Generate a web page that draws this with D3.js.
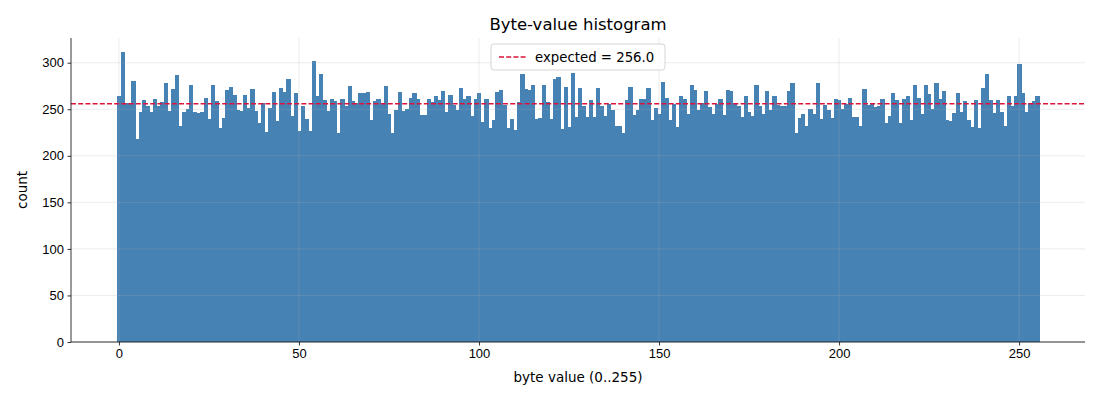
<!DOCTYPE html>
<html>
<head>
<meta charset="utf-8">
<style>
  body { margin: 0; background: #fff; }
  svg { font-family: "DejaVu Sans", sans-serif; }
</style>
</head>
<body>
<svg class="chart"></svg>

<script src="https://d3js.org/d3.v7.min.js"></script>
<script>
// histogram counts for byte values 0..255
counts = [
  264, 311, 257, 257, 280, 218, 247, 260, 253, 247, 261, 253, 258, 278, 248, 272,
  287, 232, 247, 250, 276, 247, 246, 247, 262, 240, 276, 259, 230, 241, 271, 274,
  265, 249, 248, 265, 251, 272, 248, 235, 257, 226, 251, 269, 237, 273, 269, 283,
  243, 268, 227, 253, 240, 227, 302, 264, 288, 260, 248, 261, 259, 224, 261, 253,
  275, 259, 257, 267, 268, 269, 238, 259, 261, 257, 275, 245, 225, 249, 269, 248,
  250, 262, 268, 261, 244, 244, 261, 258, 264, 260, 270, 247, 265, 255, 249, 273,
  261, 264, 243, 261, 267, 236, 261, 230, 238, 269, 271, 255, 230, 240, 228, 258,
  288, 272, 271, 276, 240, 241, 276, 258, 240, 282, 285, 229, 274, 231, 289, 242,
  273, 254, 242, 260, 242, 273, 254, 243, 256, 249, 232, 232, 224, 260, 274, 244,
  249, 261, 261, 273, 238, 251, 245, 279, 262, 238, 256, 231, 264, 261, 245, 276,
  271, 249, 257, 270, 252, 245, 256, 261, 244, 271, 270, 257, 253, 242, 264, 247,
  243, 276, 254, 245, 270, 249, 264, 255, 253, 254, 270, 278, 224, 241, 245, 232,
  250, 245, 278, 240, 255, 249, 241, 261, 260, 250, 256, 262, 242, 242, 232, 272,
  255, 257, 252, 254, 261, 235, 243, 268, 260, 235, 261, 264, 238, 276, 262, 245,
  276, 266, 250, 278, 261, 270, 238, 237, 246, 268, 247, 259, 239, 231, 260, 230,
  273, 288, 260, 246, 260, 247, 232, 264, 253, 264, 299, 268, 247, 257, 259, 264
]
expected = 256
xTicks = [0, 50, 100, 150, 200, 250]
yTicks = [0, 50, 100, 150, 200, 250, 300]

margin = ({top: 38, right: 15, bottom: 58, left: 71})
width  = 1100
height = 400

data = counts.map((v, i) => ({value: i, count: v}))

// bins are centred on each byte value, matplotlib-style 5% x padding
x = d3.scaleLinear()
    .domain([-0.5 - 12.8, 255.5 + 12.8])
    .range([margin.left, width - margin.right])

y = d3.scaleLinear()
    .domain([0, d3.max(counts) * 1.05])
    .range([height - margin.bottom, margin.top])

const svg = d3.select("svg")
    .attr("width", width)
    .attr("height", height)
    .attr("viewBox", [0, 0, width, height]);

// bars overlap a hair so no white seams show between neighbours
svg.append("g")
    .attr("fill", "steelblue")
    .attr("shape-rendering", "crispEdges")
  .selectAll("rect")
  .data(data)
  .join("rect")
    .attr("x", d => x(d.value - 0.5))
    .attr("y", d => y(d.count))
    .attr("width", d => x(d.value + 0.5) - x(d.value - 0.5) + 0.6)
    .attr("height", d => y(0) - y(d.count));

// grid on top of the bars, faint
grid = svg.append("g")
    .attr("stroke", "#b0b0b0")
    .attr("stroke-opacity", 0.3)
    .attr("stroke-width", 0.8);

grid.selectAll(".gx")
  .data(xTicks)
  .join("line")
    .attr("x1", d => x(d)).attr("x2", d => x(d))
    .attr("y1", margin.top).attr("y2", height - margin.bottom);

grid.selectAll(".gy")
  .data(yTicks)
  .join("line")
    .attr("x1", margin.left).attr("x2", width - margin.right)
    .attr("y1", d => y(d)).attr("y2", d => y(d));

// expected line
svg.append("line")
    .attr("x1", margin.left).attr("x2", width - margin.right)
    .attr("y1", y(expected)).attr("y2", y(expected))
    .attr("stroke", "crimson")
    .attr("stroke-width", 1.4)
    .attr("stroke-dasharray", "5,2.2");

xAxis = g => g
    .attr("transform", `translate(0,${height - margin.bottom})`)
    .call(d3.axisBottom(x).tickValues(xTicks).tickFormat(d3.format("d")).tickSizeOuter(0).tickSize(3.5).tickPadding(3.5))
    .call(g => g.selectAll("text").attr("font-size", 13).attr("fill", "#000"))
    .call(g => g.selectAll("line, path").attr("stroke", "#000").attr("stroke-width", 0.8));

yAxis = g => g
    .attr("transform", `translate(${margin.left},0)`)
    .call(d3.axisLeft(y).tickValues(yTicks).tickSizeOuter(0).tickSize(3.5).tickPadding(3.5))
    .call(g => g.selectAll("text").attr("font-size", 13).attr("fill", "#000"))
    .call(g => g.selectAll("line, path").attr("stroke", "#000").attr("stroke-width", 0.8));

svg.append("g").call(xAxis);
svg.append("g").call(yAxis);

svg.selectAll(".domain").attr("d", null);
svg.append("line")
    .attr("x1", margin.left).attr("x2", margin.left)
    .attr("y1", margin.top).attr("y2", height - margin.bottom)
    .attr("stroke", "#000").attr("stroke-width", 0.8);
svg.append("line")
    .attr("x1", margin.left).attr("x2", width - margin.right)
    .attr("y1", height - margin.bottom).attr("y2", height - margin.bottom)
    .attr("stroke", "#000").attr("stroke-width", 0.8);

// title and axis labels
svg.append("text")
    .attr("x", (margin.left + width - margin.right) / 2)
    .attr("y", 30)
    .attr("text-anchor", "middle")
    .attr("font-size", 16.5)
    .text("Byte-value histogram");

svg.append("text")
    .attr("x", (margin.left + width - margin.right) / 2)
    .attr("y", 382)
    .attr("text-anchor", "middle")
    .attr("font-size", 13.5)
    .text("byte value (0..255)");

svg.append("text")
    .attr("transform", `translate(27,${(margin.top + height - margin.bottom) / 2}) rotate(-90)`)
    .attr("text-anchor", "middle")
    .attr("font-size", 13.5)
    .text("count");

// legend
legend = svg.append("g")
    .attr("transform", "translate(491,44)");

legend.append("rect")
    .attr("width", 174).attr("height", 26)
    .attr("rx", 3)
    .attr("fill", "#fff").attr("fill-opacity", 0.8)
    .attr("stroke", "#d0d0d0").attr("stroke-width", 0.9);

legend.append("line")
    .attr("x1", 8).attr("x2", 36)
    .attr("y1", 13).attr("y2", 13)
    .attr("stroke", "crimson")
    .attr("stroke-width", 1.4)
    .attr("stroke-dasharray", "5,2.2");

legend.append("text")
    .attr("x", 44).attr("y", 17.5)
    .attr("font-size", 13.3)
    .text("expected = " + expected.toFixed(1));
</script>
</body>
</html>
